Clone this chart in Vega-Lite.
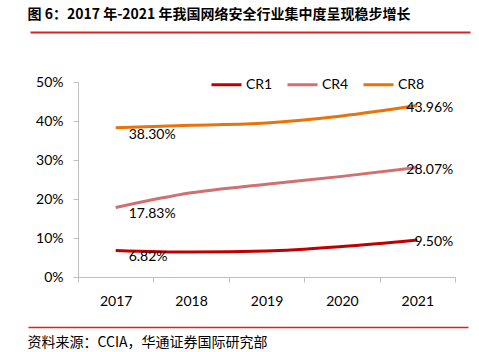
{
  "$schema": "https://vega.github.io/schema/vega-lite/v6.json",
  "width": 377,
  "height": 195,
  "autosize": {"type": "none"},
  "padding": {"left": 78, "top": 82, "right": 24, "bottom": 75},
  "background": "white",
  "config": {
    "view": {"stroke": null},
    "font": "Lato",
    "axis": {"labelFont": "Lato", "labelFontSize": 14, "labelColor": "#000000"}
  },
  "datasets": {
    "cr": [
      {"year": "2017", "series": "CR1", "value": 0.0682},
      {"year": "2018", "series": "CR1", "value": 0.0640},
      {"year": "2019", "series": "CR1", "value": 0.0665},
      {"year": "2020", "series": "CR1", "value": 0.0780},
      {"year": "2021", "series": "CR1", "value": 0.0950},
      {"year": "2017", "series": "CR4", "value": 0.1783},
      {"year": "2018", "series": "CR4", "value": 0.2160},
      {"year": "2019", "series": "CR4", "value": 0.2380},
      {"year": "2020", "series": "CR4", "value": 0.2580},
      {"year": "2021", "series": "CR4", "value": 0.2807},
      {"year": "2017", "series": "CR8", "value": 0.3830},
      {"year": "2018", "series": "CR8", "value": 0.3890},
      {"year": "2019", "series": "CR8", "value": 0.3950},
      {"year": "2020", "series": "CR8", "value": 0.4130},
      {"year": "2021", "series": "CR8", "value": 0.4396}
    ],
    "span": [{"p": 0}, {"p": 1}]
  },
  "resolve": {"scale": {"x": "independent"}, "axis": {"x": "independent"}},
  "layer": [
    {
      "data": {"name": "cr"},
      "encoding": {
        "x": {
          "field": "year", "type": "ordinal", "title": null,
          "scale": {"paddingInner": 0, "paddingOuter": 0},
          "axis": {"labelAngle": 0, "tickBand": "extent", "tickSize": 5, "domainColor": "#bfbfbf", "tickColor": "#bfbfbf", "labelPadding": 12, "grid": false}
        },
        "y": {
          "field": "value", "type": "quantitative", "title": null,
          "scale": {"domain": [0, 0.5]},
          "axis": {"format": ".0%", "values": [0, 0.1, 0.2, 0.3, 0.4, 0.5], "tickSize": 5, "domainColor": "#bfbfbf", "tickColor": "#bfbfbf", "labelPadding": 10, "grid": false}
        }
      },
      "layer": [
        {
          "mark": {"type": "line", "interpolate": "monotone", "strokeWidth": 3},
          "encoding": {
            "color": {
              "field": "series", "type": "nominal",
              "scale": {"domain": ["CR1", "CR4", "CR8"], "range": ["#C00000", "#D07070", "#E8720C"]},
              "legend": {
                "title": null, "orient": "none", "direction": "horizontal",
                "legendX": 132, "legendY": -14,
                "symbolType": "stroke", "symbolSize": 900, "symbolStrokeWidth": 3,
                "labelFont": "Lato", "labelFontSize": 14, "labelColor": "#000000",
                "labelOffset": 3, "columnPadding": 8
              }
            }
          }
        },
        {
          "transform": [{"filter": "datum.year == '2017'"}],
          "mark": {"type": "text", "align": "left", "baseline": "middle", "dx": 13, "dy": 7, "font": "Lato", "fontSize": 14, "color": "#000000"},
          "encoding": {"text": {"field": "value", "type": "quantitative", "format": ".2%"}}
        },
        {
          "transform": [{"filter": "datum.year == '2021'"}],
          "mark": {"type": "text", "align": "right", "baseline": "middle", "dx": 36, "dy": 2, "font": "Lato", "fontSize": 14, "color": "#000000"},
          "encoding": {"text": {"field": "value", "type": "quantitative", "format": ".2%"}}
        }
      ]
    },
    {
      "data": {"name": "span"},
      "mark": {"type": "rule", "opacity": 0},
      "encoding": {
        "x": {
          "field": "p", "type": "quantitative",
          "scale": {"domain": [0, 1], "range": [-48, 392]},
          "axis": {
            "orient": "top", "offset": 50, "domainColor": "#E02020", "domainWidth": 2,
            "ticks": false, "labels": false, "grid": false,
            "title": "图 6：2017 年-2021 年我国网络安全行业集中度呈现稳步增长",
            "titleFont": "Noto Sans CJK SC", "titleFontSize": 14, "titleFontWeight": "bold",
            "titleColor": "#000000", "titleAnchor": "start", "titleAlign": "left",
            "titlePadding": 11, "titleX": -51
          }
        }
      }
    },
    {
      "data": {"name": "span"},
      "mark": {"type": "rule", "opacity": 0},
      "encoding": {
        "x": {
          "field": "p", "type": "quantitative",
          "scale": {"domain": [0, 1], "range": [-50, 390]},
          "axis": {
            "orient": "bottom", "offset": 50, "domainColor": "#E02020", "domainWidth": 1.5,
            "ticks": false, "labels": false, "grid": false,
            "title": "资料来源：CCIA，华通证券国际研究部",
            "titleFont": "Noto Sans CJK SC", "titleFontSize": 14, "titleFontWeight": "normal",
            "titleColor": "#000000", "titleAnchor": "start", "titleAlign": "left",
            "titlePadding": 8, "titleX": -51
          }
        }
      }
    }
  ]
}
